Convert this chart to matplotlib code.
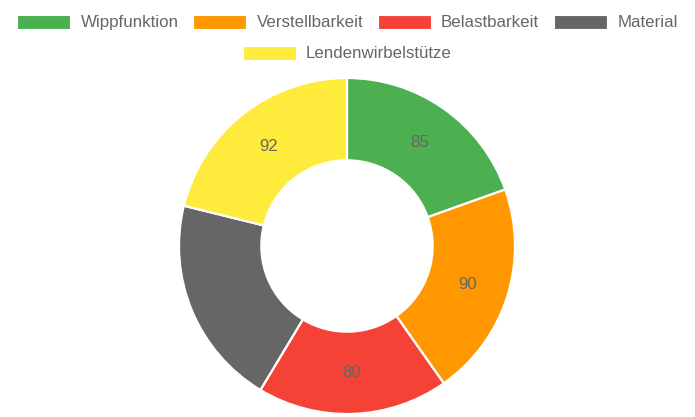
import numpy as np
import matplotlib
matplotlib.use("Agg")
import matplotlib.pyplot as plt
from matplotlib.patches import Rectangle

plt.rcParams['font.family'] = ['Liberation Sans', 'DejaVu Sans']

labels = ['Wippfunktion', 'Verstellbarkeit', 'Belastbarkeit', 'Material', 'Lendenwirbelstütze']
values = [85, 90, 80, 88, 92]
colors = ['#4CAF50', '#FF9800', '#F44336', '#666666', '#FFEB3B']

W, H = 695, 417
fig = plt.figure(figsize=(W / 100, H / 100), dpi=100)
ax = fig.add_axes([0, 0, 1, 1])

# doughnut, axes in pixel units (y up)
cx, cy, R = 347, H - 246, 168
wedges, texts = ax.pie(values, labels=[str(v) for v in values], colors=colors,
                       startangle=90, counterclock=False,
                       center=(cx, cy), radius=R, frame=True, labeldistance=0.755,
                       textprops=dict(fontsize=12.2, color='#666666', ha='center', va='center'),
                       wedgeprops=dict(width=R * 0.49, edgecolor='white', linewidth=1.6))
for t in texts:
    t.set_horizontalalignment('center')
    t.set_verticalalignment('center')
ax.set_xlim(0, W)
ax.set_ylim(0, H)
ax.axis('off')

# legend, drawn by hand (centered rows)
fig.canvas.draw()
renderer = fig.canvas.get_renderer()
fs = 12.2
box_w, box_h, gap_t, gap_i = 53, 14, 10, 15
rows = [[0, 1, 2, 3], [4]]
row_y = [H - 22, H - 53]
for row, yy in zip(rows, row_y):
    widths = []
    for i in row:
        t = fig.text(0, 0, labels[i], fontsize=fs)
        widths.append(t.get_window_extent(renderer).width)
        t.remove()
    total_w = sum(box_w + gap_t + tw for tw in widths) + gap_i * (len(row) - 1)
    x = (W - total_w) / 2
    for i, tw in zip(row, widths):
        ax.add_patch(Rectangle((x, yy - box_h / 2), box_w, box_h, facecolor=colors[i],
                               edgecolor='white', linewidth=0.8, clip_on=False))
        ax.text(x + box_w + gap_t, yy, labels[i], fontsize=fs, color='#666666',
                ha='left', va='center')
        x += box_w + gap_t + tw + gap_i

fig.savefig('out.png', dpi=100)
